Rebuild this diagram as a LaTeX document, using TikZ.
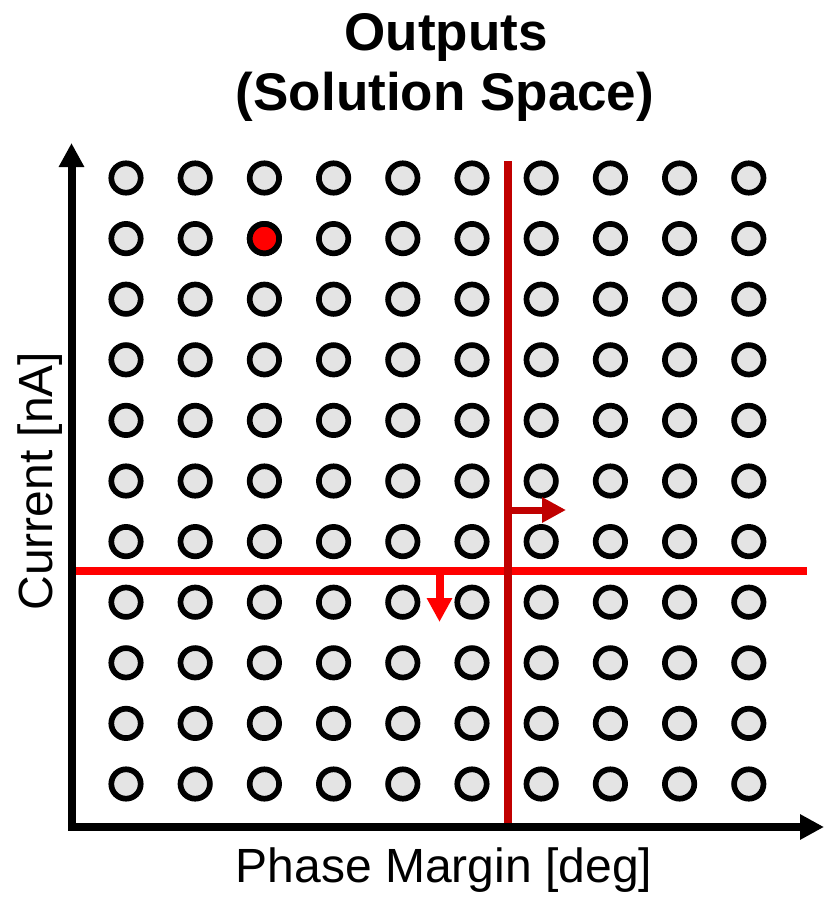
\documentclass[tikz,border=0pt]{standalone}
\usepackage{fontspec}
\setmainfont{Liberation Sans}
\usetikzlibrary{arrows.meta}
\definecolor{dotgray}{RGB}{228,228,228}
\definecolor{darkred}{RGB}{192,0,0}
\definecolor{brightred}{RGB}{255,0,0}
\tikzset{
  dot/.style={circle,draw=black,line width=5.7pt,fill=dotgray,minimum size=29.4pt,inner sep=0pt},
  reddot/.style={dot,fill=brightred},
  axisline/.style={line width=8pt,line join=miter,{Triangle[length=24pt,width=24pt]}-{Triangle[length=24pt,width=24pt]}},
  boundary/.style={line width=8.5pt},
  shiftarrow/.style={line width=7pt,-{Triangle[length=24pt,width=24pt]}},
  titletext/.style={font=\bfseries\fontsize{53}{60}\selectfont,anchor=base},
  labeltext/.style={font=\fontsize{48}{56}\selectfont,anchor=base}
}
\begin{document}
\begin{tikzpicture}[x=1pt,y=-1pt]
\useasboundingbox (0,0) rectangle (833,897);
% title
\node[titletext] (t1) at (446,50) {Outputs};
\node[titletext] (t2) at (445,110) {(Solution Space)};
% grid of dots
\foreach \i in {0,...,9}{
  \foreach \j in {0,...,10}{
    \node[dot] (c-\i-\j) at ({126+69.2*\i},{178+60.6*\j}) {};
  }
}
\node[reddot] (red) at (c-2-1) {};
% boundaries
\coordinate (hl) at (76,571);
\coordinate (hr) at (807,571);
\coordinate (vt) at (508,161);
\coordinate (vb) at (508,827);
\draw[boundary,brightred] (hl) -- (hr);
\draw[boundary,darkred] (vt) -- (vb);
% shift arrows
\coordinate (ra0) at (512,510);
\coordinate (ra1) at (566,510);
\draw[shiftarrow,darkred] (ra0) -- (ra1);
\coordinate (da0) at (439.5,575);
\coordinate (da1) at (439.5,622);
\draw[shiftarrow,brightred,line width=8pt] (da0) -- (da1);
% axes
\coordinate (ytop) at (71.5,143);
\coordinate (origin) at (71.5,827);
\coordinate (xend) at (824,827);
\draw[axisline] (ytop) -- (origin) -- (xend);
% axis labels
\node[labeltext] (xl) at (444,882) {Phase Margin [deg]};
\node[labeltext,rotate=90] (yl) at (52,481) {Current [nA]};
\end{tikzpicture}
\end{document}
